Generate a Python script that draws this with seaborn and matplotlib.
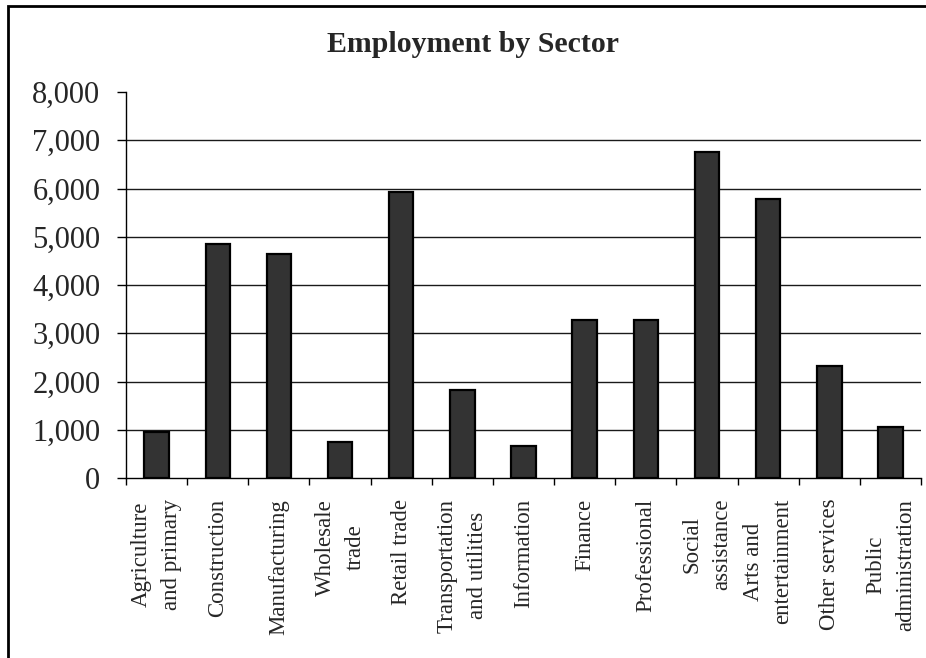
import matplotlib
matplotlib.use("Agg")
import matplotlib.pyplot as plt
import seaborn as sns
import pandas as pd
from matplotlib.patches import Rectangle
from matplotlib.ticker import FuncFormatter, MultipleLocator

# Employment counts by sector
sectors = [
    "Agriculture\nand primary", "Construction", "Manufacturing",
    "Wholesale\ntrade", "Retail trade", "Transportation\nand utilities",
    "Information", "Finance", "Professional", "Social\nassistance",
    "Arts and\nentertainment", "Other services", "Public\nadministration",
]
employment = [950, 4860, 4650, 740, 5920, 1830, 660, 3280, 3280, 6760, 5790, 2320, 1060]
y_ticks = [0, 1000, 2000, 3000, 4000, 5000, 6000, 7000, 8000]
title = "Employment by Sector"

sns.set_theme(style="white")
plt.rcParams["font.family"] = ["Liberation Serif", "DejaVu Serif"]

df = pd.DataFrame({"sector": sectors, "employment": employment})

fig = plt.figure(figsize=(9.26, 6.58), dpi=100)
ax = fig.add_axes([126 / 926, 180 / 658, 795 / 926, 386 / 658])

sns.barplot(data=df, x="sector", y="employment", color="#333333",
            saturation=1, edgecolor="black", linewidth=1.6, width=0.4, ax=ax,
            zorder=3)

ax.set_xlim(-0.5, len(sectors) - 0.5)
ax.set_ylim(y_ticks[0], y_ticks[-1])
ax.set_yticks(y_ticks)
ax.yaxis.set_major_formatter(FuncFormatter(lambda v, p: f"{int(v):,}"))

# horizontal gridlines at the inner ticks only
ax.hlines(y_ticks[1:-1], -0.5, len(sectors) - 0.5, colors="#1a1a1a",
          linewidth=1.0, zorder=1)

ax.set_xlabel("")
ax.set_ylabel("")
ax.set_xticks(range(len(sectors)))
ax.set_xticklabels(sectors, rotation=90, ha="center", va="top",
                   multialignment="center", fontsize=16.5, linespacing=1.55)
ax.xaxis.set_minor_locator(MultipleLocator(1, offset=0.5))
ax.tick_params(axis="x", which="major", length=0, pad=15)
ax.tick_params(axis="x", which="minor", length=5, width=1, color="black",
               direction="out", bottom=True)
ax.tick_params(axis="y", length=6.5, width=1, color="black", direction="out",
               left=True, labelsize=22, pad=12)

for side in ("top", "right"):
    ax.spines[side].set_visible(False)
for side in ("left", "bottom"):
    ax.spines[side].set_color("black")
    ax.spines[side].set_linewidth(1.0)

fig.text(473 / 926, 1 - 45 / 658, title, ha="center", va="center",
         fontsize=21.5, fontweight="bold")

# chart frame
fig.patches.append(Rectangle((8 / 926, -0.1), 1.2, 1.1 - 6 / 658,
                             transform=fig.transFigure, fill=False,
                             edgecolor="black", linewidth=2))

fig.savefig("out.png", dpi=100)
